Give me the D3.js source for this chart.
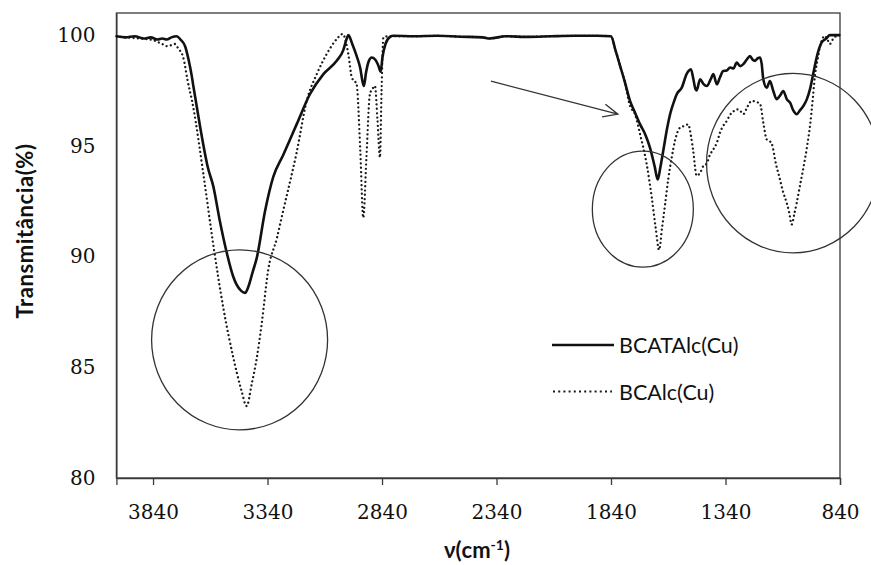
<!DOCTYPE html>
<html>
<head>
<meta charset="utf-8">
<script src="https://cdn.jsdelivr.net/npm/d3@7"></script>
<style>
  html, body { margin: 0; padding: 0; background: #fff; }
  svg { display: block; }
  .tick-label { font-family: "DejaVu Serif", "Liberation Serif", serif; font-size: 20px; fill: #111; }
  .axis-title { font-family: Lato, "Noto Sans", "DejaVu Sans", sans-serif; font-weight: bold; font-size: 22px; fill: #111; }
  .legend-text { font-family: Lato, "Noto Sans", sans-serif; font-size: 21.5px; fill: #111; }
</style>
</head>
<body>
<svg id="chart" width="871" height="565"></svg>
<script>
// FTIR spectra, transmittance (%) against wavenumber (cm-1)
const seriesNames = ["BCATAlc(Cu)", "BCAlc(Cu)"];

const bcatalcWavenumber = [
  4000, 3960, 3920, 3880, 3850, 3820, 3800, 3780, 3760, 3737, 3720, 3700, 3685, 3671, 3664, 3635,
  3600, 3577, 3550, 3518, 3490, 3475, 3455, 3438, 3425, 3405, 3387, 3351, 3315, 3271, 3213, 3155,
  3096, 3038, 3010, 2994, 2987, 2970, 2951, 2935, 2925, 2919, 2910, 2897, 2885, 2870, 2855, 2846,
  2838, 2825, 2805, 2790, 2700, 2600, 2500, 2400, 2370, 2300, 2200, 2100, 2000, 1900, 1840, 1820,
  1800, 1780, 1757, 1735, 1713, 1690, 1670, 1650, 1636, 1625, 1612, 1595, 1582, 1565, 1553, 1531,
  1510, 1500, 1491, 1480, 1473, 1466, 1451, 1437, 1422, 1405, 1393, 1378, 1364, 1350, 1335, 1320,
  1305, 1291, 1276, 1262, 1247, 1233, 1222, 1211, 1200, 1189, 1182, 1175, 1160, 1146, 1132, 1117,
  1100, 1088, 1072, 1058, 1044, 1029, 1015, 1000, 985, 971, 956, 942, 920, 900, 884, 860, 840
];
const bcatalcT = [
  99.95, 99.9, 99.95, 99.85, 99.9, 99.8, 99.85, 99.8, 99.9, 99.95, 99.8, 99.5, 98.9, 98.16, 97.7, 95.9,
  94.0, 93.18, 91.7, 90.17, 89.1, 88.73, 88.45, 88.36, 88.6, 89.3, 89.94, 92.05, 93.6, 94.6, 95.97, 97.33,
  98.24, 98.84, 99.3, 99.85, 100.0, 99.6, 99.06, 98.5, 97.9, 97.7, 98.3, 98.85, 98.99, 98.9, 98.6, 98.35,
  99.0, 99.6, 99.92, 99.97, 99.95, 99.97, 99.93, 99.9, 99.85, 99.95, 99.92, 99.95, 99.97, 99.97, 99.95, 99.3,
  98.6, 97.9, 97.03, 96.5, 95.97, 95.5, 94.92, 94.1, 93.48, 94.0, 94.77, 95.8, 96.43, 97.0, 97.33, 97.63,
  98.24, 98.4, 98.46, 98.0, 97.63, 97.5, 98.01, 97.8, 97.7, 98.0, 98.24, 97.78, 98.1, 98.38, 98.4, 98.54,
  98.5, 98.76, 98.6, 98.69, 98.9, 99.06, 98.9, 98.84, 98.95, 98.99, 98.7, 98.01, 97.63, 97.93, 97.5, 97.11,
  97.3, 97.48, 97.1, 96.95, 96.6, 96.43, 96.6, 96.8, 97.1, 97.56, 98.3, 98.99, 99.67, 99.85, 100.0, 100.0, 100.0
];

const bcalcWavenumber = [
  4000, 3960, 3900, 3850, 3800, 3780, 3760, 3745, 3730, 3708, 3690, 3664, 3620, 3577, 3533, 3489,
  3455, 3431, 3410, 3387, 3365, 3337, 3300, 3271, 3213, 3169, 3125, 3082, 3038, 3012, 2987, 2972,
  2951, 2935, 2922, 2908, 2893, 2880, 2871, 2860, 2849, 2842, 2834, 2810, 2700, 2600, 2500, 2400,
  2370, 2300, 2200, 2100, 2000, 1900, 1840, 1820, 1800, 1780, 1757, 1735, 1713, 1684, 1662, 1645,
  1630, 1617, 1604, 1590, 1575, 1561, 1539, 1520, 1503, 1490, 1481, 1466, 1450, 1437, 1422, 1408,
  1393, 1378, 1364, 1350, 1335, 1320, 1306, 1291, 1277, 1262, 1245, 1226, 1205, 1189, 1175, 1160,
  1146, 1138, 1120, 1102, 1088, 1073, 1062, 1051, 1040, 1029, 1015, 1000, 985, 971, 960, 949,
  938, 927, 916, 906, 895, 884, 875, 865, 840
];
const bcalcT = [
  99.95, 99.9, 99.85, 99.8, 99.6, 99.5, 99.55, 99.6, 99.4, 98.99, 98.0, 96.73, 93.71, 90.54, 87.68, 85.42,
  84.0, 83.25, 84.2, 85.42, 87.0, 89.4, 90.8, 92.1, 94.7, 97.03, 98.24, 99.14, 99.82, 100.05, 99.14, 98.09,
  97.78, 94.8, 91.75, 94.5, 97.33, 97.6, 97.71, 96.2, 94.47, 97.5, 99.9, 99.95, 99.95, 99.97, 99.93, 99.9,
  99.85, 99.95, 99.92, 99.95, 99.97, 99.97, 99.95, 99.3, 98.6, 97.9, 96.8, 96.43, 95.52, 94.16, 92.66, 91.3,
  90.3, 91.3, 92.35, 93.5, 94.47, 95.22, 95.82, 95.9, 95.97, 95.4, 94.77, 93.65, 93.8, 94.09, 94.2, 94.6,
  94.84, 95.14, 95.6, 95.9, 96.12, 96.4, 96.55, 96.65, 96.6, 96.43, 96.75, 97.03, 96.98, 96.9, 96.05, 95.29,
  95.2, 95.1, 94.2, 93.48, 92.9, 92.43, 92.0, 91.45, 91.9, 92.43, 93.2, 94.0, 94.9, 95.9, 97.0, 98.2,
  98.9, 99.5, 99.85, 99.97, 99.8, 99.6, 99.75, 99.9, 100.0
];

const xTickValues = [3840, 3340, 2840, 2340, 1840, 1340, 840];
const yTickValues = [80, 85, 90, 95, 100];

// Highlighted regions: centre in data units, radii in pixels
const highlightCentres = [[3462, 86.24], [1701, 92.14], [1045, 94.22]];
const highlightRadii = [[88, 90], [50.5, 58], [86.5, 89.7]];
// Pointer to the shoulder near 1780 cm-1
const pointerFrom = [2364, 97.92];
const pointerTo = [1810, 96.43];

const svg = d3.select("#chart");
const plot = { left: 116.4, right: 840, top: 13, bottom: 478 };

const x = d3.scaleLinear().domain([4000, 840]).range([plot.left, plot.right]);
const y = d3.scaleLinear().domain([80, 101]).range([plot.bottom, plot.top]);

// Frame around the plot area
svg.append("rect")
  .attr("x", plot.left).attr("y", plot.top)
  .attr("width", plot.right - plot.left).attr("height", plot.bottom - plot.top)
  .attr("fill", "none").attr("stroke", "#3a3a3a").attr("stroke-width", 1.3);

// Axes
const xAxis = svg.append("g")
  .attr("transform", `translate(0,${plot.bottom})`)
  .call(d3.axisBottom(x).tickValues(xTickValues).tickFormat(d3.format("d")).tickSize(7).tickPadding(20));
xAxis.select(".domain").attr("stroke", "#3a3a3a").attr("stroke-width", 1.3);
xAxis.selectAll(".tick line").attr("stroke", "#3a3a3a").attr("stroke-width", 1.3);
xAxis.selectAll(".tick text").attr("class", "tick-label").attr("font-family", null).attr("font-size", null);

const yAxis = svg.append("g")
  .attr("transform", `translate(${plot.left},0)`)
  .call(d3.axisLeft(y).tickValues(yTickValues).tickFormat(d3.format("d")).tickSize(0).tickPadding(21));
yAxis.select(".domain").attr("stroke", "#3a3a3a").attr("stroke-width", 1.3);
yAxis.selectAll(".tick text").attr("class", "tick-label").attr("font-family", null).attr("font-size", null);

// Spectra
const line = d3.line().x(d => x(d[0])).y(d => y(d[1])).curve(d3.curveMonotoneX);
const solidData = d3.zip(bcatalcWavenumber, bcatalcT);
const dottedData = d3.zip(bcalcWavenumber, bcalcT);

svg.append("path")
  .datum(dottedData)
  .attr("d", line)
  .attr("fill", "none")
  .attr("stroke", "#1a1a1a")
  .attr("stroke-width", 2.3)
  .attr("stroke-linecap", "round")
  .attr("stroke-dasharray", "0.01 4.3");

svg.append("path")
  .datum(solidData)
  .attr("d", line)
  .attr("fill", "none")
  .attr("stroke", "#111")
  .attr("stroke-width", 2.6)
  .attr("stroke-linejoin", "round");

// Highlight ellipses
svg.selectAll("ellipse.highlight")
  .data(d3.zip(highlightCentres, highlightRadii))
  .join("ellipse")
  .attr("class", "highlight")
  .attr("cx", d => x(d[0][0]))
  .attr("cy", d => y(d[0][1]))
  .attr("rx", d => d[1][0])
  .attr("ry", d => d[1][1])
  .attr("fill", "none")
  .attr("stroke", "#333")
  .attr("stroke-width", 1.3);

// Pointer arrow with open head
const ax0 = x(pointerFrom[0]), ay0 = y(pointerFrom[1]);
const ax1 = x(pointerTo[0]), ay1 = y(pointerTo[1]);
const ang = Math.atan2(ay1 - ay0, ax1 - ax0);
const headLen = 16, headSpread = 0.42;
svg.append("path")
  .attr("d", `M${ax0},${ay0}L${ax1},${ay1}` +
    `M${ax1 - headLen * Math.cos(ang - headSpread)},${ay1 - headLen * Math.sin(ang - headSpread)}L${ax1},${ay1}` +
    `L${ax1 - headLen * Math.cos(ang + headSpread)},${ay1 - headLen * Math.sin(ang + headSpread)}`)
  .attr("fill", "none")
  .attr("stroke", "#333")
  .attr("stroke-width", 1.3);

// Legend
const legend = svg.append("g").attr("transform", "translate(552,345)");
legend.append("line").attr("x1", 0).attr("x2", 62).attr("y1", 0).attr("y2", 0)
  .attr("stroke", "#111").attr("stroke-width", 2.6);
legend.append("text").attr("class", "legend-text").attr("x", 67).attr("y", 8).text(seriesNames[0]);
legend.append("line").attr("x1", 1).attr("x2", 60).attr("y1", 46.5).attr("y2", 46.5)
  .attr("stroke", "#1a1a1a").attr("stroke-width", 2).attr("stroke-dasharray", "2 3.2");
legend.append("text").attr("class", "legend-text").attr("x", 67).attr("y", 55).text(seriesNames[1]);

// Axis titles
svg.append("text")
  .attr("class", "axis-title")
  .attr("transform", "translate(33,231) rotate(-90)")
  .attr("text-anchor", "middle")
  .attr("letter-spacing", "0.6px")
  .text("Transmitância(%)");

const xt = svg.append("text")
  .attr("class", "axis-title")
  .attr("x", 477).attr("y", 558)
  .attr("text-anchor", "middle");
xt.append("tspan").text("ν(cm");
xt.append("tspan").attr("font-size", "14px").attr("dy", -8).text("-1");
xt.append("tspan").attr("dy", 8).text(")");
</script>
</body>
</html>
